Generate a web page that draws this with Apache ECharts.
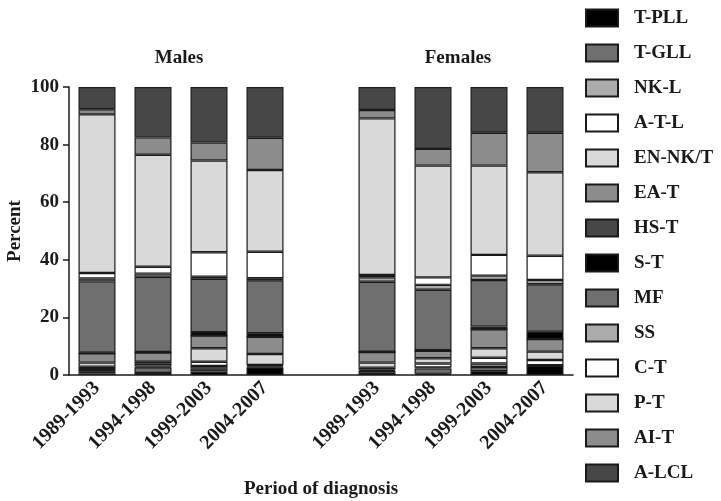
<!DOCTYPE html>
<html>
<head>
<meta charset="utf-8">
<script src="https://cdn.jsdelivr.net/npm/echarts@6/dist/echarts.min.js"></script>
<style>
html,body{margin:0;padding:0;background:#fff;}
#chart{width:721px;height:501px;}
</style>
</head>
<body>
<div id="chart"></div>
<script>
// ---- data ----
const periods = ['1989-1993', '1994-1998', '1999-2003', '2004-2007'];
const groups = ['Males', 'Females'];
const yTicks = [0, 20, 40, 60, 80, 100];
const seriesNames = ['T-PLL', 'T-GLL', 'NK-L', 'A-T-L', 'EN-NK/T', 'EA-T', 'HS-T',
                     'S-T', 'MF', 'SS', 'C-T', 'P-T', 'AI-T', 'A-LCL'];
// values: Males 1989-1993..2004-2007, then Females 1989-1993..2004-2007 (percent)
const vTPLL  = [0.5, 0.7, 1.2, 2.6, 0.8, 0.4, 1.3, 3.1];
const vTGLL  = [0.8, 2.0, 1.0, 0.3, 0.6, 1.9, 1.5, 0.2];
const vNKL   = [0.8, 0.3, 0.9, 0.3, 0.4, 0.3, 1.2, 0.1];
const vATL   = [0.8, 0.9, 1.5, 0.3, 0.7, 1.4, 2.0, 1.8];
const vENNKT = [1.4, 0.7, 4.7, 3.8, 1.8, 1.8, 3.3, 2.9];
const vEAT   = [3.2, 3.2, 4.4, 6.0, 3.7, 2.6, 6.6, 4.4];
const vHST   = [0, 0, 0, 0, 0, 0, 0, 0];
const vST    = [0.2, 0.2, 1.2, 1.2, 0.1, 0.2, 0.9, 2.5];
const vMF    = [24.8, 26.1, 18.5, 18.4, 24.3, 21.0, 16.2, 16.5];
const vSS    = [1.0, 1.1, 0.7, 0.7, 1.5, 1.7, 1.5, 1.5];
const vCT    = [1.9, 2.4, 8.5, 9.2, 0.8, 2.6, 7.2, 8.4];
const vPT    = [55.1, 38.9, 31.9, 28.4, 54.4, 38.8, 31.0, 29.0];
const vAIT   = [1.8, 6.0, 6.2, 11.2, 2.9, 5.8, 11.4, 13.7];
const vALCL  = [7.7, 17.5, 19.3, 17.6, 8.0, 21.5, 15.9, 15.9];

const allValues = [vTPLL, vTGLL, vNKL, vATL, vENNKT, vEAT, vHST,
                   vST, vMF, vSS, vCT, vPT, vAIT, vALCL];

// ---- styles ----
const fills = ['#000000', '#6f6f6f', '#ababab', '#ffffff', '#d9d9d9', '#8c8c8c', '#474747'];
const FONT = 'Liberation Serif';
const TXT = '#1a1a1a';
const FS = 19;

// categories: males, a blank gap, females
const categories = periods.concat([''], periods);
function withGap(arr) {
  return arr.slice(0, 4).concat(['-'], arr.slice(4));
}

const series = seriesNames.map(function (name, i) {
  return {
    name: name,
    type: 'bar',
    stack: 'total',
    barWidth: 37,
    data: withGap(allValues[i]),
    itemStyle: { color: fills[i % 7], borderColor: '#1a1a1a', borderWidth: 1.2 },
    emphasis: { disabled: true }
  };
});

const chart = echarts.init(document.getElementById('chart'), null, { renderer: 'canvas' });
chart.setOption({
  animation: false,
  backgroundColor: '#ffffff',
  title: [
    { text: groups[0], left: 179, top: 49, textAlign: 'center', padding: 0,
      textStyle: { fontFamily: FONT, fontWeight: 'bold', fontSize: FS, color: TXT } },
    { text: groups[1], left: 458, top: 49, textAlign: 'center', padding: 0,
      textStyle: { fontFamily: FONT, fontWeight: 'bold', fontSize: FS, color: TXT } }
  ],
  legend: {
    orient: 'vertical',
    left: 585,
    top: 7,
    padding: 0,
    itemWidth: 32,
    itemHeight: 17,
    itemGap: 13,
    icon: 'rect',
    selectedMode: false,
    textStyle: { fontFamily: FONT, fontWeight: 'bold', fontSize: FS, lineHeight: 22, color: TXT, padding: [0, 0, 0, 11] },
    data: seriesNames
  },
  grid: { left: 69, right: 148, top: 87, bottom: 126, containLabel: false, outerBoundsMode: 'none' },
  xAxis: {
    type: 'category',
    data: categories,
    name: 'Period of diagnosis',
    nameLocation: 'middle',
    nameGap: 105,
    nameTextStyle: { fontFamily: FONT, fontWeight: 'bold', fontSize: FS, color: TXT },
    axisLine: { lineStyle: { color: '#1a1a1a', width: 1.5 } },
    axisTick: {
      alignWithLabel: true, length: 6,
      interval: function (idx, val) { return val !== ''; },
      lineStyle: { color: '#1a1a1a', width: 1.5 }
    },
    axisLabel: {
      interval: 0, rotate: 45, margin: 10,
      fontFamily: FONT, fontWeight: 'bold', fontSize: 20, color: TXT
    }
  },
  yAxis: {
    type: 'value',
    min: 0, max: 100, interval: 20,
    name: 'Percent',
    nameLocation: 'middle',
    nameGap: 44,
    nameMoveOverlap: false,
    nameTextStyle: { fontFamily: FONT, fontWeight: 'bold', fontSize: FS, color: TXT },
    splitLine: { show: false },
    axisLine: { show: true, lineStyle: { color: '#1a1a1a', width: 1.5 } },
    axisTick: { show: true, length: 6, lineStyle: { color: '#1a1a1a', width: 1.5 } },
    axisLabel: {
      margin: 10, fontFamily: FONT, fontWeight: 'bold', fontSize: FS, color: TXT,
      formatter: function (v) { return yTicks.indexOf(v) >= 0 ? String(v) : ''; }
    }
  },
  series: series
});
</script>
</body>
</html>
